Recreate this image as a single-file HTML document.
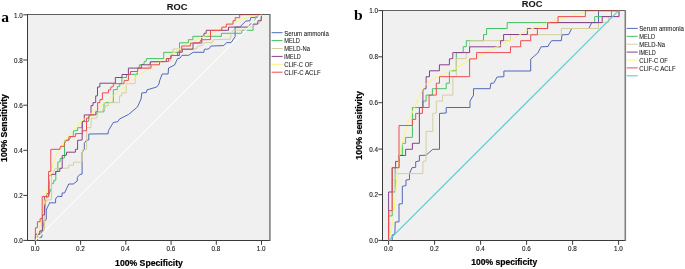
<!DOCTYPE html>
<html lang="en">
<head>
<meta charset="utf-8">
<title>ROC</title>
<style>
html,body{margin:0;padding:0;background:#fff;}
body{width:685px;height:269px;overflow:hidden;}
svg{display:block;}
text{font-family:"Liberation Sans",Arial,Helvetica,sans-serif;fill:#1a1a1a;}
.tk{font-size:6.3px;fill:#222;stroke:#222;stroke-width:0.12px;}
.lg{font-size:7.2px;fill:#1a1a1a;stroke:#1a1a1a;stroke-width:0.08px;}
.ti{font-size:9.3px;font-weight:bold;fill:#1a1a1a;stroke:#1a1a1a;stroke-width:0.1px;}
.al{font-weight:bold;fill:#000;stroke:#000;stroke-width:0.2px;}
.pl{font-family:"Liberation Serif","Times New Roman",serif;font-weight:bold;font-size:15.6px;fill:#000;}
</style>
</head>
<body>
<svg width="685" height="269" viewBox="0 0 685 269">
<defs><filter id="soft" x="0" y="0" width="685" height="269" filterUnits="userSpaceOnUse" color-interpolation-filters="sRGB"><feGaussianBlur stdDeviation="0.35"/></filter></defs>
<g filter="url(#soft)">
<rect x="-5" y="-5" width="695" height="279" fill="#ffffff"/>
<rect x="27.5" y="14.5" width="242.0" height="226.0" fill="#f0f0f0"/>
<line x1="27.0" y1="14.5" x2="270.4" y2="14.5" stroke="#606060" stroke-width="1.15"/>
<line x1="27.0" y1="240.5" x2="270.4" y2="240.5" stroke="#3a3a3a" stroke-width="1"/>
<line x1="27.5" y1="14.5" x2="27.5" y2="240.5" stroke="#3a3a3a" stroke-width="1"/>
<line x1="269.9" y1="14.5" x2="269.9" y2="240.5" stroke="#808080" stroke-width="1.6"/>
<line x1="35.4" y1="240.5" x2="35.4" y2="244.8" stroke="#3a3a3a" stroke-width="1"/>
<line x1="23.3" y1="240.4" x2="27.5" y2="240.4" stroke="#3a3a3a" stroke-width="1"/>
<text class="tk" x="35.1" y="251.2" text-anchor="middle">0.0</text>
<text class="tk" x="22.7" y="243.3" text-anchor="end">0.0</text>
<line x1="80.6" y1="240.5" x2="80.6" y2="244.8" stroke="#3a3a3a" stroke-width="1"/>
<line x1="23.3" y1="195.4" x2="27.5" y2="195.4" stroke="#3a3a3a" stroke-width="1"/>
<text class="tk" x="80.3" y="251.2" text-anchor="middle">0.2</text>
<text class="tk" x="22.7" y="198.3" text-anchor="end">0.2</text>
<line x1="125.8" y1="240.5" x2="125.8" y2="244.8" stroke="#3a3a3a" stroke-width="1"/>
<line x1="23.3" y1="150.3" x2="27.5" y2="150.3" stroke="#3a3a3a" stroke-width="1"/>
<text class="tk" x="125.5" y="251.2" text-anchor="middle">0.4</text>
<text class="tk" x="22.7" y="153.2" text-anchor="end">0.4</text>
<line x1="171.1" y1="240.5" x2="171.1" y2="244.8" stroke="#3a3a3a" stroke-width="1"/>
<line x1="23.3" y1="105.2" x2="27.5" y2="105.2" stroke="#3a3a3a" stroke-width="1"/>
<text class="tk" x="170.8" y="251.2" text-anchor="middle">0.6</text>
<text class="tk" x="22.7" y="108.2" text-anchor="end">0.6</text>
<line x1="216.3" y1="240.5" x2="216.3" y2="244.8" stroke="#3a3a3a" stroke-width="1"/>
<line x1="23.3" y1="60.0" x2="27.5" y2="60.0" stroke="#3a3a3a" stroke-width="1"/>
<text class="tk" x="216.0" y="251.2" text-anchor="middle">0.8</text>
<text class="tk" x="22.7" y="63.0" text-anchor="end">0.8</text>
<line x1="261.5" y1="240.5" x2="261.5" y2="244.8" stroke="#3a3a3a" stroke-width="1"/>
<line x1="23.3" y1="14.8" x2="27.5" y2="14.8" stroke="#3a3a3a" stroke-width="1"/>
<text class="tk" x="261.2" y="251.2" text-anchor="middle">1.0</text>
<text class="tk" x="22.7" y="17.8" text-anchor="end">1.0</text>
<clipPath id="cl"><rect x="27.5" y="13.9" width="242.0" height="226.6"/></clipPath>
<g clip-path="url(#cl)">
<polyline points="35.4,240.4 37.6,240.3 37.6,237.2 41.8,237.2 42.0,231.2 44.4,231.0 44.6,221.0 46.3,219.6 46.3,210.0 47.9,206.2 49.3,203.7 49.3,202.8 55.6,202.8 55.6,199.0 57.5,196.4 62.0,196.4 62.0,193.0 64.5,193.0 68.7,184.0 73.2,184.0 77.3,181.0 77.3,177.4 79.9,174.4 82.1,174.1 82.1,152.3 84.3,149.3 84.3,143.3 86.5,140.3 88.8,140.0 88.8,134.0 108.1,133.8 108.4,130.7 113.3,122.5 117.8,121.7 119.5,119.0 128.5,114.5 137.4,107.0 141.1,98.9 141.8,92.9 146.3,92.6 147.0,89.9 156.7,87.0 159.0,84.0 159.5,81.0 162.2,74.0 168.1,74.0 168.6,68.0 174.6,65.0 177.5,58.6 179.8,58.3 182.0,55.3 188.7,55.3 193.2,52.3 203.9,52.3 204.3,49.3 208.8,49.0 211.0,46.0 223.7,45.6 226.6,42.6 231.1,42.6 235.1,36.7 235.1,27.1 239.7,27.1 245.7,21.1 250.1,20.7 250.6,17.7 255.3,17.4 257.6,14.7 261.5,14.6" fill="none" stroke="#5068b8" stroke-width="1.0" stroke-linejoin="miter" />
<polyline points="35.4,240.4 35.4,237.3 37.6,237.2 37.6,234.3 41.6,234.2 41.8,231.5 42.6,230.0 43.6,224.0 44.4,218.0 45.6,200.0 46.0,197.3 48.6,197.0 49.5,193.0 51.5,188.0 51.5,184.0 53.8,183.2 53.8,180.5 55.8,180.2 55.8,172.0 57.8,171.3 57.8,162.3 60.1,161.6 60.1,158.6 64.5,157.9 64.5,140.3 69.0,140.0 71.0,136.6 73.2,136.6 73.5,130.7 77.6,130.7 77.6,127.7 82.1,127.7 82.1,121.5 88.3,121.5 88.9,119.0 88.9,115.0 95.9,114.9 97.2,112.0 104.0,111.8 104.0,102.8 113.3,102.4 113.3,89.7 117.3,89.6 117.3,86.7 119.8,86.2 119.8,83.7 121.8,83.2 122.0,77.5 126.5,77.5 126.5,74.5 137.4,74.3 137.6,68.0 139.1,67.8 139.4,64.8 143.9,64.5 144.3,61.5 146.3,61.1 146.5,58.6 163.7,58.6 163.7,52.3 179.5,52.3 179.5,42.8 188.4,42.8 188.4,39.7 192.9,39.7 192.9,36.3 221.4,36.3 221.4,33.3 241.9,33.3 241.9,30.3 253.1,30.3 253.1,24.4 254.6,20.7 256.1,17.7 258.0,17.7 258.0,14.7 261.5,14.6" fill="none" stroke="#44c262" stroke-width="1.0" stroke-linejoin="miter" />
<polyline points="35.4,240.4 35.4,234.3 39.8,234.3 39.8,231.2 44.5,231.0 44.5,205.0 47.0,200.0 51.6,199.7 51.6,176.0 55.3,168.4 68.7,168.1 68.7,165.2 73.5,165.2 73.5,162.2 82.1,162.2 82.4,150.0 86.6,149.5 86.6,127.7 91.0,127.7 91.3,118.2 96.5,118.2 97.2,116.0 97.9,112.0 102.6,111.6 102.9,108.8 105.2,108.4 105.2,105.6 108.4,105.6 108.4,102.7 119.5,102.6 119.5,95.9 121.8,95.9 121.8,92.9 126.2,92.9 126.2,83.7 135.1,83.7 135.4,74.5 137.6,72.0 137.6,68.1 148.8,68.1 148.8,64.8 150.3,61.8 170.0,61.5 170.8,58.3 173.0,52.3 173.0,49.0 196.8,48.9 197.3,46.1 201.8,45.7 204.3,42.6 212.5,42.6 213.2,39.7 230.4,39.2 231.1,33.7 233.0,30.3 246.4,30.0 249.4,27.1 259.8,23.0 261.3,14.7" fill="none" stroke="#d4cf9e" stroke-width="1.0" stroke-linejoin="miter" />
<polyline points="35.4,240.4 35.4,234.2 39.8,234.2 39.8,230.9 42.3,230.9 42.3,215.0 44.4,215.0 44.4,196.7 46.6,196.7 46.6,193.7 49.0,193.7 49.0,175.9 52.3,174.4 55.6,174.4 55.6,171.4 59.8,171.4 59.8,168.4 62.2,168.2 62.2,155.6 66.4,155.2 66.6,152.2 75.4,152.2 75.4,149.3 77.6,149.3 77.6,140.3 82.1,140.0 82.4,121.2 84.3,121.2 84.3,114.9 91.0,114.9 91.0,105.6 93.0,105.6 93.0,102.6 95.7,102.6 95.7,95.9 97.5,95.9 97.5,87.0 99.9,87.0 99.9,83.2 115.4,83.2 115.3,77.5 122.0,77.5 122.0,74.5 128.4,74.5 128.4,68.1 141.3,68.1 141.3,64.8 150.3,64.8 150.3,61.8 166.2,61.5 166.4,58.6 170.8,58.6 170.8,55.3 179.3,55.6 179.3,52.2 182.3,52.2 182.3,49.2 193.0,49.2 193.0,43.0 201.8,43.0 201.8,36.3 204.0,36.3 204.0,33.3 206.2,33.3 206.2,30.3 228.5,30.3 228.5,27.1 249.4,27.1 250.1,24.1 257.6,24.1 258.0,20.7 261.3,20.7 261.3,14.7" fill="none" stroke="#884089" stroke-width="1.0" stroke-linejoin="miter" />
<polyline points="35.4,240.4 36.7,236.3 38.9,230.7 40.6,221.8 41.7,214.0 43.3,207.0 44.8,201.0 46.4,193.0 48.9,180.0 51.0,172.0 53.4,163.8 56.3,154.9 60.1,148.2 64.4,141.5 67.4,137.3 74.9,128.4 82.3,120.7 90.7,113.7 97.9,108.2 103.3,103.8 108.2,99.8 113.5,95.7 119.0,91.4 124.6,87.0 131.1,80.8 142.3,72.9 153.4,65.8 160.0,61.8 171.1,54.5 182.3,47.3 193.4,41.2 204.6,36.1 209.5,33.7 216.6,30.3 231.5,23.6 241.9,19.2 252.4,16.2 261.5,14.6" fill="none" stroke="#fbf672" stroke-width="1.0" stroke-linejoin="miter" />
<polyline points="35.4,240.4 35.4,227.8 37.4,227.8 37.4,221.8 40.1,221.8 40.1,218.6 42.2,218.6 42.2,196.4 48.6,196.4 48.6,171.4 50.8,171.4 50.8,149.3 59.8,149.3 60.5,146.3 64.2,146.3 64.5,143.3 66.5,140.3 68.7,140.3 69.0,136.6 75.4,136.6 75.4,133.6 82.4,133.6 82.4,130.7 86.5,130.7 86.5,118.2 88.9,118.1 88.9,114.9 95.6,114.8 95.7,111.7 97.6,111.6 97.6,102.6 99.9,102.6 99.9,99.6 102.4,99.6 102.4,92.9 108.4,92.9 108.4,89.9 110.6,89.9 110.9,87.0 113.3,86.7 113.3,83.7 124.0,83.7 124.3,80.4 128.4,80.4 128.4,74.5 130.5,74.5 130.5,71.5 137.6,71.5 137.6,68.1 151.0,68.1 151.0,64.8 159.5,64.8 159.5,61.8 168.4,61.5 168.6,58.6 171.1,58.0 171.1,55.6 177.5,55.4 177.5,52.3 180.2,51.8 181.7,49.5 181.7,46.0 190.3,46.0 190.5,43.2 199.5,42.8 201.0,39.8 210.5,39.6 210.5,30.5 221.7,30.3 221.9,27.1 226.3,27.1 226.3,24.1 233.0,24.1 233.0,20.7 235.2,20.7 235.2,17.7 239.7,17.7 239.7,14.7 261.5,14.6" fill="none" stroke="#f04a52" stroke-width="1.0" stroke-linejoin="miter" />
<line x1="35.4" y1="240.4" x2="261.5" y2="14.6" stroke="#fbfbfb" stroke-width="1.3"/>
</g>
<line x1="239.7" y1="14.5" x2="261.5" y2="14.5" stroke="#3a3a3a" stroke-width="1" stroke-opacity="0.5"/>
<text class="ti" x="177.1" y="10.4" text-anchor="middle">ROC</text>
<text class="al" style="font-size:8.66px" x="149" y="266.2" text-anchor="middle">100% Specificity</text>
<text class="al" style="font-size:8.66px" transform="translate(7.0,128.0) rotate(-90)" text-anchor="middle">100% Sensitivity</text>
<line x1="271.6" y1="32.7" x2="282.6" y2="32.7" stroke="#5068b8" stroke-width="1"/>
<text class="lg" x="284.20000000000005" y="35.5" textLength="44.6" lengthAdjust="spacingAndGlyphs">Serum ammonia</text>
<line x1="271.6" y1="40.6" x2="282.6" y2="40.6" stroke="#44c262" stroke-width="1"/>
<text class="lg" x="284.20000000000005" y="43.4" textLength="15.7" lengthAdjust="spacingAndGlyphs">MELD</text>
<line x1="271.6" y1="48.5" x2="282.6" y2="48.5" stroke="#d4cf9e" stroke-width="1"/>
<text class="lg" x="284.20000000000005" y="51.2" textLength="25.7" lengthAdjust="spacingAndGlyphs">MELD-Na</text>
<line x1="271.6" y1="56.4" x2="282.6" y2="56.4" stroke="#884089" stroke-width="1"/>
<text class="lg" x="284.20000000000005" y="59.2" textLength="16.5" lengthAdjust="spacingAndGlyphs">iMELD</text>
<line x1="271.6" y1="64.3" x2="282.6" y2="64.3" stroke="#fbf672" stroke-width="1"/>
<text class="lg" x="284.20000000000005" y="67.1" textLength="28.6" lengthAdjust="spacingAndGlyphs">CLIF-C OF</text>
<line x1="271.6" y1="72.2" x2="282.6" y2="72.2" stroke="#f04a52" stroke-width="1"/>
<text class="lg" x="284.20000000000005" y="75.0" textLength="36.4" lengthAdjust="spacingAndGlyphs">CLIF-C ACLF</text>
<rect x="382.5" y="10.5" width="243.0" height="230.0" fill="#f0f0f0"/>
<line x1="382.0" y1="10.5" x2="625.8" y2="10.5" stroke="#606060" stroke-width="1.15"/>
<line x1="382.0" y1="240.5" x2="625.8" y2="240.5" stroke="#3a3a3a" stroke-width="1"/>
<line x1="382.5" y1="10.5" x2="382.5" y2="240.5" stroke="#3a3a3a" stroke-width="1"/>
<line x1="625.3" y1="10.5" x2="625.3" y2="240.5" stroke="#808080" stroke-width="1.6"/>
<line x1="388.6" y1="240.5" x2="388.6" y2="244.8" stroke="#3a3a3a" stroke-width="1"/>
<line x1="378.3" y1="240.4" x2="382.5" y2="240.4" stroke="#3a3a3a" stroke-width="1"/>
<text class="tk" x="388.3" y="251.2" text-anchor="middle">0.0</text>
<text class="tk" x="378.09999999999997" y="242.9" text-anchor="end">0.0</text>
<line x1="434.6" y1="240.5" x2="434.6" y2="244.8" stroke="#3a3a3a" stroke-width="1"/>
<line x1="378.3" y1="194.7" x2="382.5" y2="194.7" stroke="#3a3a3a" stroke-width="1"/>
<text class="tk" x="434.3" y="251.2" text-anchor="middle">0.2</text>
<text class="tk" x="378.09999999999997" y="197.2" text-anchor="end">0.2</text>
<line x1="480.6" y1="240.5" x2="480.6" y2="244.8" stroke="#3a3a3a" stroke-width="1"/>
<line x1="378.3" y1="149.1" x2="382.5" y2="149.1" stroke="#3a3a3a" stroke-width="1"/>
<text class="tk" x="480.3" y="251.2" text-anchor="middle">0.4</text>
<text class="tk" x="378.09999999999997" y="151.6" text-anchor="end">0.4</text>
<line x1="526.6" y1="240.5" x2="526.6" y2="244.8" stroke="#3a3a3a" stroke-width="1"/>
<line x1="378.3" y1="102.7" x2="382.5" y2="102.7" stroke="#3a3a3a" stroke-width="1"/>
<text class="tk" x="526.3" y="251.2" text-anchor="middle">0.6</text>
<text class="tk" x="378.09999999999997" y="105.2" text-anchor="end">0.6</text>
<line x1="572.6" y1="240.5" x2="572.6" y2="244.8" stroke="#3a3a3a" stroke-width="1"/>
<line x1="378.3" y1="56.8" x2="382.5" y2="56.8" stroke="#3a3a3a" stroke-width="1"/>
<text class="tk" x="572.3" y="251.2" text-anchor="middle">0.8</text>
<text class="tk" x="378.09999999999997" y="59.3" text-anchor="end">0.8</text>
<line x1="618.6" y1="240.5" x2="618.6" y2="244.8" stroke="#3a3a3a" stroke-width="1"/>
<line x1="378.3" y1="10.6" x2="382.5" y2="10.6" stroke="#3a3a3a" stroke-width="1"/>
<text class="tk" x="618.3" y="251.2" text-anchor="middle">1.0</text>
<text class="tk" x="378.09999999999997" y="13.1" text-anchor="end">1.0</text>
<clipPath id="cr"><rect x="382.5" y="9.9" width="243.0" height="230.6"/></clipPath>
<g clip-path="url(#cr)">
<polyline points="388.6,240.4 392.2,240.4 392.2,235.0 394.9,234.0 395.2,222.1 399.0,221.8 399.0,204.0 402.3,203.7 402.3,186.3 406.0,185.6 406.0,180.0 409.5,179.6 409.5,173.6 412.0,167.7 415.7,167.3 415.7,161.7 419.4,161.0 419.4,155.5 426.1,155.2 432.8,149.3 439.5,149.3 439.5,113.4 446.2,113.0 446.2,107.5 470.0,107.5 470.0,101.1 473.5,95.1 473.5,88.7 490.1,88.7 490.8,83.4 493.8,83.0 497.1,77.0 503.9,76.7 503.9,71.0 530.7,71.0 530.7,59.1 537.7,53.2 541.1,46.8 548.1,46.5 548.6,45.0 551.6,40.7 561.3,40.7 562.0,34.8 568.7,34.5 571.7,28.5 588.8,28.5 591.8,22.6 598.5,22.6 598.5,10.7 618.6,10.7" fill="none" stroke="#5068b8" stroke-width="1.0" stroke-linejoin="miter" />
<polyline points="388.6,240.4 388.6,215.9 392.2,215.9 392.2,192.0 395.2,192.0 395.2,167.7 399.0,167.7 399.0,155.2 402.3,155.2 402.3,143.3 405.6,143.3 405.6,137.4 412.4,137.4 412.4,107.5 422.9,107.5 422.9,101.1 426.1,101.1 426.1,95.1 432.4,95.1 432.4,88.7 446.2,88.7 446.2,83.2 449.4,83.2 449.4,70.8 456.3,70.8 456.3,52.6 463.2,52.6 463.2,46.7 466.3,46.7 466.3,40.7 483.5,40.7 483.5,34.6 486.6,34.6 486.6,28.5 507.2,28.5 507.2,22.6 594.7,22.6 594.7,16.6 611.5,16.6 611.5,10.7 618.6,10.7" fill="none" stroke="#44c262" stroke-width="1.0" stroke-linejoin="miter" />
<polyline points="388.6,240.4 388.6,210.7 392.2,210.7 392.2,180.0 395.4,180.0 395.4,173.6 422.9,173.6 422.9,161.7 426.1,161.0 426.1,131.4 432.8,131.4 432.8,113.4 436.3,113.0 436.3,101.1 442.5,101.1 442.5,95.1 452.9,95.1 452.9,76.7 456.3,76.7 456.3,58.6 466.2,58.6 466.2,52.6 469.6,52.6 469.6,40.7 510.4,40.7 510.4,34.7 561.3,34.7 561.3,28.5 598.5,28.5 598.5,22.6 608.6,22.6 608.6,16.6 619.0,16.6 619.0,10.7" fill="none" stroke="#d4cf9e" stroke-width="1.0" stroke-linejoin="miter" />
<polyline points="388.6,240.4 388.6,192.0 392.2,192.0 392.2,167.7 395.6,167.7 395.6,161.4 399.0,161.4 399.0,155.5 405.6,155.5 405.6,149.3 412.4,149.3 412.4,143.3 419.4,143.3 419.4,107.5 422.9,107.5 422.9,89.2 426.1,88.7 426.1,76.7 429.5,76.7 429.5,70.8 439.4,70.8 439.4,64.8 449.4,64.8 449.4,58.9 452.8,58.6 452.8,52.6 469.6,52.6 469.6,46.8 500.6,46.8 500.6,40.7 503.6,40.7 503.6,34.5 527.4,34.5 527.4,28.5 547.6,28.5 547.6,22.6 602.2,22.6 602.2,16.6 619.0,16.6 619.0,10.7" fill="none" stroke="#884089" stroke-width="1.0" stroke-linejoin="miter" />
<polyline points="388.6,240.4 392.6,223.3 394.9,201.0 396.4,183.3 397.9,168.4 398.6,161.0 400.0,152.3 402.3,143.3 405.6,131.4 408.6,121.0 414.2,107.8 420.2,94.4 424.6,85.5 429.8,81.0 456.5,67.8 470.0,59.9 500.5,45.2 509.5,40.7 518.5,35.5 527.4,30.3 537.8,26.6 547.9,22.6 585.0,11.7 592.5,10.7 618.6,10.7" fill="none" stroke="#fbf672" stroke-width="1.0" stroke-linejoin="miter" />
<polyline points="388.6,240.4 388.6,210.7 392.2,210.7 392.2,167.7 399.0,167.7 399.0,125.5 412.4,125.5 412.4,119.4 415.7,119.4 415.7,113.4 422.4,113.4 422.4,107.5 429.1,107.5 429.1,95.1 436.3,95.1 436.3,83.2 439.5,83.2 439.5,76.7 469.6,76.7 469.6,58.9 476.6,58.9 476.6,52.6 510.5,52.6 510.5,46.8 520.7,46.8 520.7,40.7 530.7,40.7 530.7,34.8 537.4,34.8 537.4,28.5 547.6,28.5 547.6,22.6 558.0,22.6 558.0,16.6 585.4,16.6 585.4,10.7 618.6,10.7" fill="none" stroke="#f04a52" stroke-width="1.0" stroke-linejoin="miter" />
<line x1="388.6" y1="240.4" x2="618.6" y2="10.7" stroke="#5ccacd" stroke-width="1.2"/>
</g>
<line x1="585.4" y1="10.5" x2="618.6" y2="10.5" stroke="#3a3a3a" stroke-width="1" stroke-opacity="0.5"/>
<text class="ti" x="532.2" y="7.4" text-anchor="middle">ROC</text>
<text class="al" style="font-size:8.56px" x="504.2" y="265.1" text-anchor="middle">100% specificity</text>
<text class="al" style="font-size:8.9px" transform="translate(361.6,125.4) rotate(-90)" text-anchor="middle">100% sensitivity</text>
<line x1="626.7" y1="28.4" x2="637.7" y2="28.4" stroke="#5068b8" stroke-width="1"/>
<text class="lg" x="639.3000000000001" y="31.1" textLength="44.6" lengthAdjust="spacingAndGlyphs">Serum ammonia</text>
<line x1="626.7" y1="36.3" x2="637.7" y2="36.3" stroke="#44c262" stroke-width="1"/>
<text class="lg" x="639.3000000000001" y="39.0" textLength="15.7" lengthAdjust="spacingAndGlyphs">MELD</text>
<line x1="626.7" y1="44.2" x2="637.7" y2="44.2" stroke="#d4cf9e" stroke-width="1"/>
<text class="lg" x="639.3000000000001" y="47.0" textLength="25.7" lengthAdjust="spacingAndGlyphs">MELD-Na</text>
<line x1="626.7" y1="52.1" x2="637.7" y2="52.1" stroke="#884089" stroke-width="1"/>
<text class="lg" x="639.3000000000001" y="54.9" textLength="16.5" lengthAdjust="spacingAndGlyphs">iMELD</text>
<line x1="626.7" y1="60.0" x2="637.7" y2="60.0" stroke="#fbf672" stroke-width="1"/>
<text class="lg" x="639.3000000000001" y="62.8" textLength="28.6" lengthAdjust="spacingAndGlyphs">CLIF-C OF</text>
<line x1="626.7" y1="67.9" x2="637.7" y2="67.9" stroke="#f04a52" stroke-width="1"/>
<text class="lg" x="639.3000000000001" y="70.7" textLength="36.4" lengthAdjust="spacingAndGlyphs">CLIF-C ACLF</text>
<line x1="626.7" y1="75.8" x2="637.7" y2="75.8" stroke="#4cc8cc" stroke-width="1"/>
<text class="pl" x="1.2" y="22">a</text>
<text class="pl" x="354" y="20">b</text>
</g>
</svg>
</body>
</html>
